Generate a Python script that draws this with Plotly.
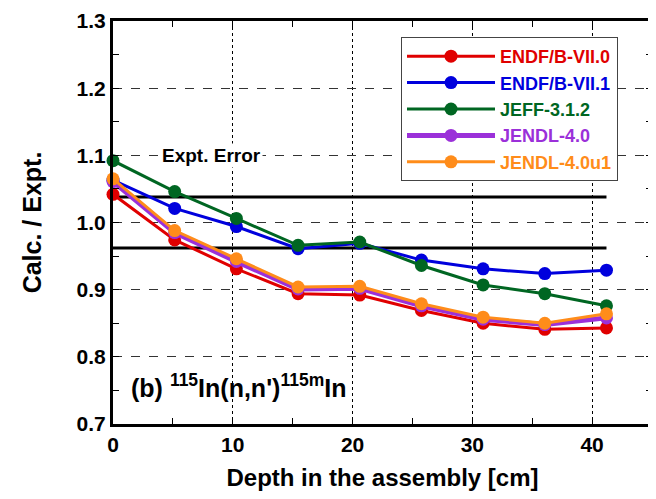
import plotly.graph_objects as go

depth = [0.0, 5.15, 10.3, 15.45, 20.6, 25.75, 30.9, 36.05, 41.2]

endf70 = [1.042, 0.974, 0.931, 0.894, 0.892, 0.869, 0.850, 0.841, 0.843]
endf71 = [1.063, 1.021, 0.994, 0.961, 0.969, 0.944, 0.931, 0.924, 0.929]
jeff312 = [1.092, 1.046, 1.006, 0.966, 0.971, 0.936, 0.907, 0.894, 0.876]
jendl40 = [1.061, 0.985, 0.942, 0.901, 0.902, 0.876, 0.856, 0.848, 0.858]
jendl40u1 = [1.065, 0.988, 0.946, 0.904, 0.905, 0.879, 0.859, 0.850, 0.864]

series_names = ["ENDF/B-VII.0", "ENDF/B-VII.1", "JEFF-3.1.2", "JENDL-4.0", "JENDL-4.0u1"]
series_values = [endf70, endf71, jeff312, jendl40, jendl40u1]
series_colors = ["#e00000", "#0000dd", "#006622", "#9b30d9", "#ff8c1a"]
series_widths = [3, 3, 3, 5, 3]

expt_upper = 1.038
expt_lower = 0.962

y_ticks = [0.7, 0.8, 0.9, 1.0, 1.1, 1.2, 1.3]
x_ticks = [0, 10, 20, 30, 40]

FONT = "Liberation Sans"

fig = go.Figure()

# experimental error band lines
for yv in (expt_upper, expt_lower):
    fig.add_trace(go.Scatter(
        x=[depth[0], depth[-1]], y=[yv, yv], mode="lines",
        line=dict(color="black", width=3), showlegend=False, hoverinfo="skip",
        cliponaxis=False,
    ))

for name, vals, col, w in zip(series_names, series_values, series_colors, series_widths):
    fig.add_trace(go.Scatter(
        x=depth, y=vals, mode="lines+markers",
        name=f"<span style='color:{col}'>{name}</span>",
        line=dict(color=col, width=w),
        marker=dict(color=col, size=13, symbol="circle"),
        cliponaxis=False,
    ))

fig.add_annotation(
    x=8.25, y=1.1, xref="x", yref="y", text="Expt. Error", showarrow=False,
    font=dict(family=FONT, size=19, color="black", weight="bold"),
    bgcolor="white", borderpad=1,
)
fig.add_annotation(
    x=1.3, y=0.757, xref="x", yref="y", xanchor="left",
    text="(b) <sup>115</sup>In(n,n')<sup>115m</sup>In", showarrow=False,
    font=dict(family=FONT, size=25, color="black", weight="bold"),
)

# page body adds an 8px offset; compensate so the plot area lands at x 113-652, y 21-424
fig.update_layout(
    width=648, height=491,
    margin=dict(l=105, r=4, t=13, b=75, autoexpand=False),
    paper_bgcolor="white", plot_bgcolor="white",
    showlegend=True,
    legend=dict(
        x=(401 - 113) / 539, y=(424 - 37) / 403, xanchor="left", yanchor="top",
        bgcolor="white", bordercolor="#444", borderwidth=1,
        font=dict(family=FONT, size=18, weight="bold"),
        itemwidth=88, tracegroupgap=0,
    ),
    xaxis=dict(
        range=[0, 45], tickvals=x_ticks, ticktext=[str(v) for v in x_ticks],
        automargin=False,
        showline=True, linewidth=3, linecolor="black", mirror="allticks",
        ticks="inside", ticklen=6, tickwidth=1, tickcolor="black",
        showgrid=True, gridcolor="black", gridwidth=1, griddash="dot",
        zeroline=False,
        minor=dict(dtick=5, ticks="inside", ticklen=6, tickwidth=1, tickcolor="black", showgrid=False),
        tickfont=dict(family=FONT, size=21, color="black", weight="bold"),
        title=dict(text="Depth in the assembly [cm]", standoff=14,
                   font=dict(family=FONT, size=24, color="black", weight="bold")),
    ),
    yaxis=dict(
        range=[0.7, 1.3], tickvals=y_ticks, tickformat=".1f",
        automargin=False,
        showline=True, linewidth=3, linecolor="black", mirror="allticks",
        ticks="inside", ticklen=6, tickwidth=1, tickcolor="black",
        showgrid=True, gridcolor="#333", gridwidth=1, griddash="dash",
        zeroline=False,
        minor=dict(dtick=0.05, ticks="inside", ticklen=6, tickwidth=1, tickcolor="black", showgrid=False),
        tickfont=dict(family=FONT, size=21, color="black", weight="bold"),
        title=dict(text="Calc. / Expt.", standoff=28,
                   font=dict(family=FONT, size=25, color="black", weight="bold")),
    ),
)

fig.write_html("out.html")
